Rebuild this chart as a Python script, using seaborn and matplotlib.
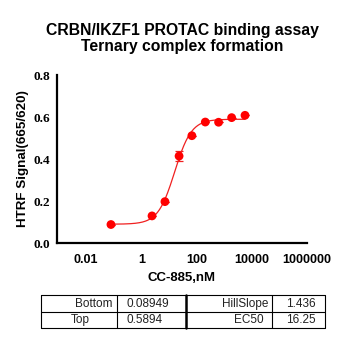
import numpy as np
import pandas as pd
import matplotlib
matplotlib.use("Agg")
import matplotlib.pyplot as plt
import seaborn as sns

# ---- data ----
conc_nM = [0.08, 2.45, 7.2, 23.4, 68, 208, 630, 1870, 5700]
signal = [0.088, 0.129, 0.197, 0.414, 0.511, 0.576, 0.575, 0.597, 0.608]
signal_err = [0.0, 0.0, 0.0, 0.022, 0.0, 0.0, 0.0, 0.0, 0.0]

fit_names = ["Bottom", "Top", "HillSlope", "EC50"]
fit_labels = ["0.08949", "0.5894", "1.436", "16.25"]
bottom, top, hill, ec50 = [float(v) for v in fit_labels]

xticks = [0.01, 1, 100, 10000, 1000000]
xtick_labels = ["0.01", "1", "100", "10000", "1000000"]
yticks = [0.0, 0.2, 0.4, 0.6, 0.8]

title = "CRBN/IKZF1 PROTAC binding assay\nTernary complex formation"
xlabel = "CC-885,nM"
ylabel = "HTRF Signal(665/620)"

# ---- figure ----
sns.set_style("white")
plt.rcParams["font.family"] = ["Liberation Sans", "DejaVu Sans"]
plt.rcParams["text.color"] = "black"
plt.rcParams["axes.labelcolor"] = "black"
plt.rcParams["xtick.color"] = "black"
plt.rcParams["ytick.color"] = "black"
W = H = 347
fig = plt.figure(figsize=(W / 100, H / 100), dpi=100)

def px_axes(x0, y0, x1, y1):
    return fig.add_axes([x0 / W, 1 - y1 / H, (x1 - x0) / W, (y1 - y0) / H])

ax = px_axes(57, 75, 307, 243)

df = pd.DataFrame({"conc": conc_nM, "signal": signal})

# fitted 4PL curve from the table parameters
xs = np.logspace(np.log10(conc_nM[0]), np.log10(conc_nM[-1]), 200)
ys = bottom + (top - bottom) / (1 + 10 ** ((np.log10(ec50) - np.log10(xs)) * hill))
fit_df = pd.DataFrame({"conc": xs, "signal": ys})
sns.lineplot(data=fit_df, x="conc", y="signal", ax=ax, color="#f02020", linewidth=0.9)

ax.errorbar(conc_nM, signal, yerr=signal_err, fmt="none", ecolor="#f02020",
            elinewidth=0.9, capsize=3, capthick=0.9)
sns.scatterplot(data=df, x="conc", y="signal", ax=ax, color="#ff0000", s=40,
                edgecolor="none", zorder=5)

ax.set_xscale("log")
ax.set_xlim(10 ** -3.05, 1e6)
ax.set_ylim(0, 0.8)
ax.set_xticks(xticks)
ax.set_xticklabels(xtick_labels)
ax.xaxis.set_minor_locator(matplotlib.ticker.NullLocator())
ax.set_yticks(yticks)
ax.set_yticklabels([f"{v:.1f}" for v in yticks])

for s in ["top", "right"]:
    ax.spines[s].set_visible(False)
for s in ["left", "bottom"]:
    ax.spines[s].set_linewidth(1.6)
    ax.spines[s].set_color("black")

ax.tick_params(axis="x", direction="out", length=5, width=1.6, color="black",
               labelsize=9, pad=3, labelcolor="black")
ax.tick_params(axis="y", direction="out", length=4, width=1.6, color="black",
               labelsize=9.5, pad=1, labelcolor="black")
for lab in ax.get_xticklabels():
    lab.set_fontweight("bold")
for lab in ax.get_yticklabels():
    lab.set_fontfamily("Liberation Serif")
    lab.set_fontweight("bold")

ax.set_xlabel(xlabel, fontsize=9.5, fontweight="bold", labelpad=4, color="black")
ax.set_ylabel(ylabel, fontsize=9.6, fontweight="bold", labelpad=3, color="black")
ax.set_title(title, fontsize=11.3, fontweight="bold", pad=17, linespacing=1.1,
             color="black")

# ---- parameter table ----
tax = px_axes(0, 0, W, H)
tax.set_xlim(0, W)
tax.set_ylim(H, 0)
tax.axis("off")
x0, x1, y0, y1 = 41, 325, 295, 328
ymid = 311.5
tax.plot([x0, x1, x1, x0, x0], [y0, y0, y1, y1, y0], color="black", lw=0.8)
tax.plot([x0, x1], [ymid, ymid], color="black", lw=0.8)
tax.plot([117.5, 117.5], [y0, y1], color="black", lw=0.8)
tax.plot([186, 186], [y0, y1], color="black", lw=1.8)
tax.plot([272, 272], [y0, y1], color="black", lw=0.8)

tcol = "#222222"
fs = 8.5
rows = [(y0 + ymid) / 2 + 0.5, (ymid + y1) / 2 + 0.5]
tax.text(113, rows[0], fit_names[0], ha="right", va="center", fontsize=fs, color=tcol)
tax.text(71, rows[1], fit_names[1], ha="left", va="center", fontsize=fs, color=tcol)
tax.text(127, rows[0], fit_labels[0], ha="left", va="center", fontsize=fs, color=tcol)
tax.text(127, rows[1], fit_labels[1], ha="left", va="center", fontsize=fs, color=tcol)
tax.text(268, rows[0], fit_names[2], ha="right", va="center", fontsize=fs, color=tcol)
tax.text(264, rows[1], fit_names[3], ha="right", va="center", fontsize=fs, color=tcol)
tax.text(316, rows[0], fit_labels[2], ha="right", va="center", fontsize=fs, color=tcol)
tax.text(316, rows[1], fit_labels[3], ha="right", va="center", fontsize=fs, color=tcol)

fig.savefig("out.png", dpi=100)
